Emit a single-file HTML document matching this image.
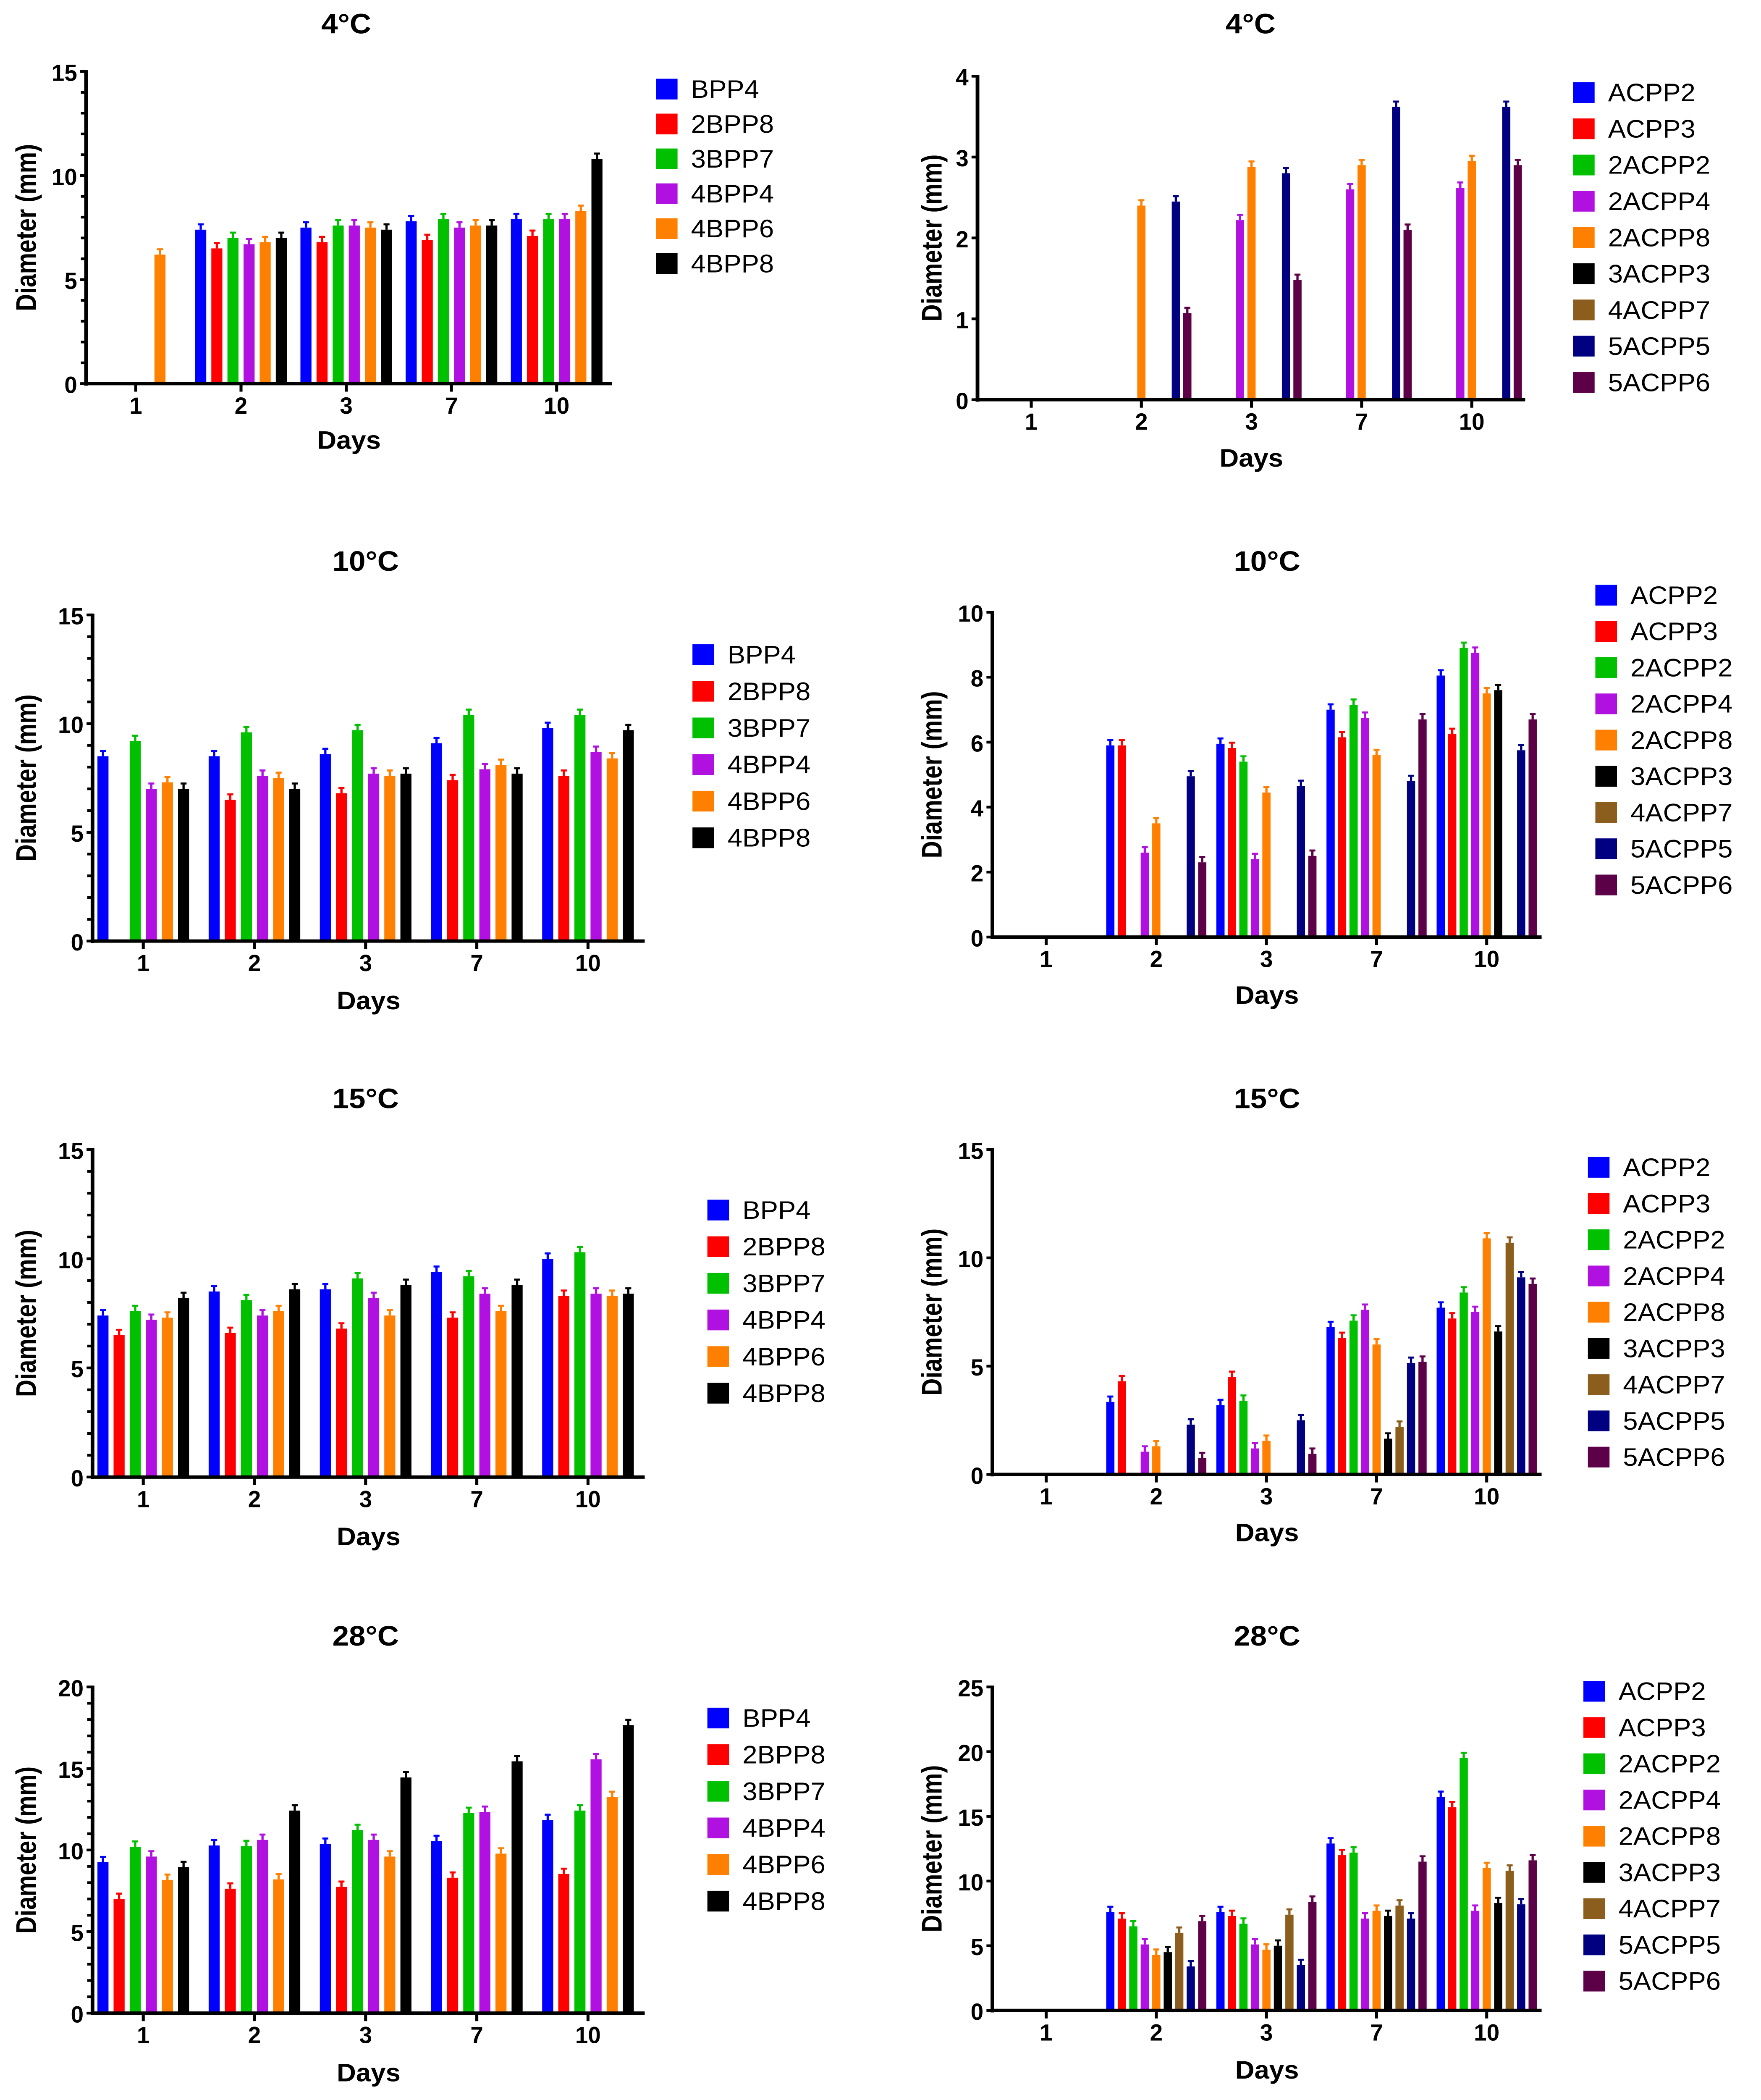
<!DOCTYPE html>
<html><head><meta charset="utf-8"><style>
html,body{margin:0;padding:0;background:#fff;width:100vw;height:100vh;overflow:hidden;}
svg{display:block;width:100vw;height:100vh;position:absolute;left:0;top:0;}
text{font-family:"Liberation Sans",Arial,sans-serif;fill:#000;}
</style></head><body>
<svg id="fig" xmlns="http://www.w3.org/2000/svg" viewBox="0 0 1180 1571" preserveAspectRatio="none"></svg>
<script>
const daysCats = ["1","2","3","7","10"];
const bppNames = ["BPP4","2BPP8","3BPP7","4BPP4","4BPP6","4BPP8"];
const bppColors = ["#0000ff","#ff0000","#00c000","#b010e0","#ff8000","#000000"];
const acppNames = ["ACPP2","ACPP3","2ACPP2","2ACPP4","2ACPP8","3ACPP3","4ACPP7","5ACPP5","5ACPP6"];
const acppColors = ["#0000ff","#ff0000","#00c000","#b010e0","#ff8000","#000000","#8c5e1e","#000080","#5c0048"];

const bpp4C = [[0,7.4,7.5,7.8,7.9],[0,6.5,6.8,6.9,7.1],[0,7.0,7.6,7.9,7.9],[0,6.7,7.6,7.5,7.9],[6.2,6.8,7.5,7.6,8.3],[0,7.0,7.4,7.6,10.8]];
const bpp10C = [[8.5,8.5,8.6,9.1,9.8],[0,6.5,6.8,7.4,7.6],[9.2,9.6,9.7,10.4,10.4],[7.0,7.6,7.7,7.9,8.7],[7.3,7.5,7.6,8.1,8.4],[7.0,7.0,7.7,7.7,9.7]];
const bpp15C = [[7.4,8.5,8.6,9.4,10.0],[6.5,6.6,6.8,7.3,8.3],[7.6,8.1,9.1,9.2,10.3],[7.2,7.4,8.2,8.4,8.4],[7.3,7.6,7.4,7.6,8.3],[8.2,8.6,8.8,8.8,8.4]];
const bpp28C = [[9.25,10.28,10.38,10.55,11.84],[7.0,7.63,7.74,8.3,8.53],[10.2,10.24,11.23,12.27,12.42],[9.6,10.62,10.62,12.34,15.56],[8.17,8.2,9.6,9.78,13.25],[8.95,12.42,14.45,15.44,17.66]];

const acpp4C = [[0,0,0,0,0],[0,0,0,0,0],[0,0,0,0,0],[0,0,2.22,2.6,2.62],[0,2.4,2.88,2.9,2.95],[0,0,0,0,0],[0,0,0,0,0],[0,2.45,2.8,3.62,3.62],[0,1.07,1.48,2.1,2.9]];
const acpp10C = [[0,5.9,5.95,7.0,8.05],[0,5.9,5.82,6.15,6.25],[0,0,5.4,7.15,8.9],[0,2.6,2.4,6.75,8.75],[0,3.5,4.45,5.6,7.5],[0,0,0,0,7.6],[0,0,0,0,0],[0,4.95,4.65,4.8,5.75],[0,2.3,2.5,6.7,6.7]];
const acpp15C = [[0,3.35,3.2,6.8,7.7],[0,4.3,4.5,6.3,7.2],[0,0,3.4,7.1,8.4],[0,1.05,1.2,7.6,7.5],[0,1.3,1.55,6.0,10.9],[0,0,0,1.65,6.6],[0,0,0,2.2,10.7],[0,2.3,2.5,5.15,9.1],[0,0.75,0.95,5.2,8.8]];
const acpp28C = [[0,7.6,7.6,12.9,16.5],[0,7.1,7.3,12.0,15.7],[0,6.5,6.7,12.2,19.5],[0,5.1,5.1,7.1,7.7],[0,4.3,4.7,7.7,11.0],[0,4.5,5.0,7.3,8.3],[0,6.0,7.4,8.1,10.8],[0,3.4,3.5,7.1,8.2],[0,6.9,8.4,11.5,11.6]];

const NS="http://www.w3.org/2000/svg";
const fig=document.getElementById('fig');
function mk(tag,attrs,parent){const e=document.createElementNS(NS,tag);for(const k in attrs)e.setAttribute(k,attrs[k]);(parent||fig).appendChild(e);return e;}
function txt(parent,x,y,s,size,bold,anchor,rot,sx){
  const t=mk('text',{'font-size':size,'font-weight':bold?'bold':'normal','text-anchor':anchor||'middle',
    transform:'translate('+x+','+y+')'+(rot?' rotate(-90)':'')+' scale('+(sx||0.93)+',1)'},parent);
  t.textContent=s;return t;
}

function chart(cfg){
  const g=mk('g',{});
  
  
  const yS=v=>cfg.y0-(v/cfg.ymax)*(cfg.y0-cfg.yTop);
  const n=cfg.names.length;
  const xS=(ci,si)=>cfg.cx0+ci*cfg.cstep+(si-(n-1)/2)*cfg.bstep;
  const tt=txt(g,cfg.titleX,cfg.titleY,cfg.title,21,true,'middle',false,0.95);
  
  
  cfg.data.forEach((ser,si)=>{
    ser.forEach((v,ci)=>{
      if(v<=0)return;
      const x=xS(ci,si), y=yS(v);
      const r=mk('rect',{x:x-cfg.bw/2,y:y,width:cfg.bw,height:cfg.y0-y,fill:cfg.colors[si]},g);
      
      
      const yt=y-4;
      mk('line',{x1:x,x2:x,y1:y,y2:yt,stroke:cfg.colors[si],'stroke-width':1.5},g);
      mk('line',{x1:x-2,x2:x+2,y1:yt,y2:yt,stroke:cfg.colors[si],'stroke-width':1.5},g);
    });
  });
  const ya=mk('line',{x1:cfg.x0,x2:cfg.x0,y1:cfg.yTop-1,y2:cfg.y0+1.5,stroke:'#000','stroke-width':2.5},g);
  
  
  const xa=mk('line',{x1:cfg.x0,x2:cfg.xEnd,y1:cfg.y0,y2:cfg.y0,stroke:'#000','stroke-width':2.5},g);
  
  
  for(let v=0;v<=cfg.ymax+1e-9;v+=cfg.minor){
    const y=yS(v);mk('line',{x1:cfg.x0-3.5,x2:cfg.x0,y1:y,y2:y,stroke:'#000','stroke-width':2},g);
  }
  for(let v=0;v<=cfg.ymax+1e-9;v+=cfg.major){
    const y=yS(v);mk('line',{x1:cfg.x0-4,x2:cfg.x0,y1:y,y2:y,stroke:'#000','stroke-width':2},g);
    const l=txt(g,cfg.x0-6,y+7,String(v),17.5,true,'end',false,0.88);
    
    
  }
  daysCats.forEach((c,ci)=>{
    const x=cfg.cx0+ci*cfg.cstep;
    mk('line',{x1:x,x2:x,y1:cfg.y0,y2:cfg.y0+6,stroke:'#000','stroke-width':2},g);
    const l=txt(g,x,cfg.y0+22.5,c,17.5,true,'middle',false,0.88);
    
    
  });
  const xt=txt(g,(cfg.x0+cfg.xEnd)/2,cfg.daysY,'Days',19,true,'middle',false,0.94);
  
  
  const yt=txt(g,cfg.ylabX,(cfg.y0+cfg.yTop)/2,'Diameter (mm)',19,true,'middle',true,0.94);
  
  
  cfg.names.forEach((nm,i)=>{
    const y=cfg.legY+i*cfg.legStep;
    const lg=mk('g',{},g);
    
    
    mk('rect',{x:cfg.legX,y:y-7.5,width:14.5,height:15.5,fill:cfg.colors[i]},lg);
    txt(lg,cfg.legX+23.5,y+6.8,nm,19,false,'start',false,0.94);
  });
}

const L={names:bppNames,colors:bppColors,bw:7.4,bstep:10.8};
const R={names:acppNames,colors:acppColors,bw:5.5,bstep:7.7};
chart(Object.assign({},L,{name:'chart-bpp-4c',title:'4°C',titleX:232,titleY:25,data:bpp4C,ymax:15,major:5,minor:1,
  x0:57.7,xEnd:410,yTop:53.5,y0:287,cx0:91,cstep:70.5,daysY:335.7,ylabX:24,legX:439.5,legY:66.4,legStep:26.1}));
chart(Object.assign({},L,{name:'chart-bpp-10c',title:'10°C',titleX:245,titleY:427,data:bpp10C,ymax:15,major:5,minor:1,
  x0:62,xEnd:432,yTop:460,y0:704,cx0:96,cstep:74.5,daysY:755,ylabX:24,legX:464,legY:489.5,legStep:27.4}));
chart(Object.assign({},L,{name:'chart-bpp-15c',title:'15°C',titleX:245,titleY:829,data:bpp15C,ymax:15,major:5,minor:1,
  x0:62,xEnd:432,yTop:860,y0:1105,cx0:96,cstep:74.5,daysY:1156,ylabX:24,legX:474,legY:905,legStep:27.4}));
chart(Object.assign({},L,{name:'chart-bpp-28c',title:'28°C',titleX:245,titleY:1231,data:bpp28C,ymax:20,major:5,minor:1,
  x0:62,xEnd:432,yTop:1262,y0:1506,cx0:96,cstep:74.5,daysY:1557,ylabX:24,legX:474,legY:1285,legStep:27.4}));

chart(Object.assign({},R,{name:'chart-acpp-4c',title:'4°C',titleX:838,titleY:25,data:acpp4C,ymax:4,major:1,minor:1,
  x0:655,xEnd:1022,yTop:57,y0:299,cx0:691,cstep:73.8,daysY:349,ylabX:631,legX:1054,legY:69,legStep:27.1}));
chart(Object.assign({},R,{name:'chart-acpp-10c',title:'10°C',titleX:849,titleY:427,data:acpp10C,ymax:10,major:2,minor:2,
  x0:665,xEnd:1033,yTop:458,y0:701,cx0:701,cstep:73.8,daysY:751,ylabX:631,legX:1069,legY:445,legStep:27.1}));
chart(Object.assign({},R,{name:'chart-acpp-15c',title:'15°C',titleX:849,titleY:829,data:acpp15C,ymax:15,major:5,minor:5,
  x0:665,xEnd:1033,yTop:860,y0:1103,cx0:701,cstep:73.8,daysY:1153,ylabX:631,legX:1064,legY:873,legStep:27.1}));
chart(Object.assign({},R,{name:'chart-acpp-28c',title:'28°C',titleX:849,titleY:1231,data:acpp28C,ymax:25,major:5,minor:5,
  x0:665,xEnd:1033,yTop:1262,y0:1504,cx0:701,cstep:73.8,daysY:1555,ylabX:631,legX:1061,legY:1265,legStep:27.1}));
</script>
</body></html>
